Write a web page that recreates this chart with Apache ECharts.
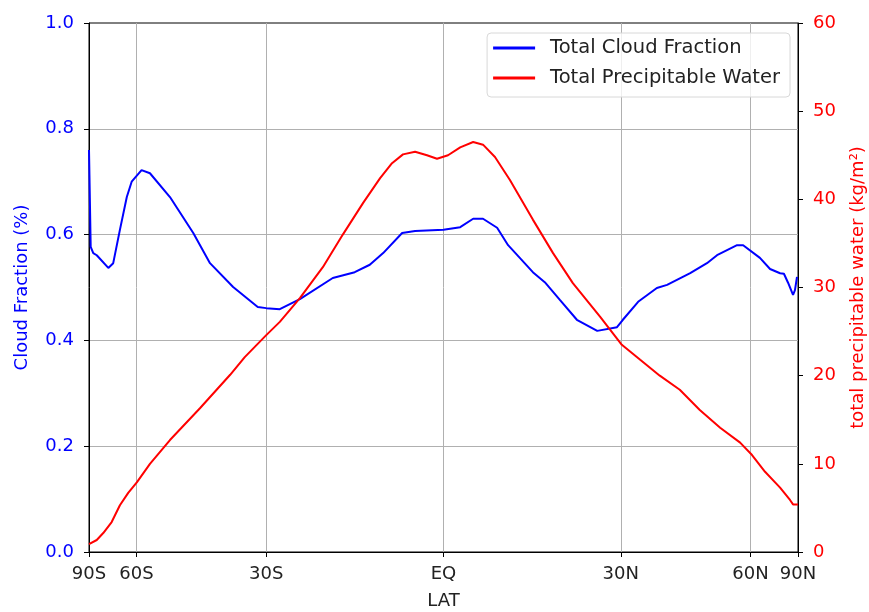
<!DOCTYPE html>
<html><head><meta charset="utf-8">
<script src="https://cdn.jsdelivr.net/npm/echarts@6/dist/echarts.min.js"></script>
<style>html,body{margin:0;padding:0;background:#fff}#c{width:869px;height:612px}</style>
</head><body><div id="c"></div>
<script>
// Latitudes (degrees) and values
var cloudLat = [-90,-84.4,-81.1,-78.0,-71.0,-68.7,-65.9,-63.3,-61.6,-58.4,-55.9,-50.5,-44.9,-41.2,-36.4,-31.6,-30,-27.5,-23.9,-18.2,-14.5,-12.0,-9.8,-6.7,-4.6,0,2.7,4.8,6.4,8.7,10.5,14.6,16.6,19.2,22.1,25.7,29.3,30.4,33.3,37.0,39.1,44.1,48.0,50.5,55.9,57.7,63.2,67.1,71.7,73.8,76.4,80.4,82.5,85.7];
var cloudFrac = [0.76,0.577,0.565,0.561,0.537,0.546,0.609,0.671,0.700,0.722,0.716,0.671,0.603,0.546,0.501,0.463,0.461,0.459,0.478,0.518,0.529,0.543,0.565,0.603,0.607,0.609,0.614,0.630,0.630,0.613,0.580,0.529,0.510,0.476,0.439,0.418,0.425,0.439,0.473,0.499,0.505,0.527,0.546,0.561,0.580,0.580,0.556,0.535,0.527,0.526,0.509,0.486,0.495,0.520];
var waterLat = [-90,-78.0,-73.7,-69.4,-65.9,-62.8,-59.9,-55.9,-50.5,-43.4,-37.0,-34.1,-30,-27.5,-23.9,-19.9,-16.5,-13.1,-10.3,-8.35,-6.56,-4.6,-2.67,-1.05,0.73,2.7,4.8,6.4,8.35,10.8,14.6,18.0,21.4,26.2,30.2,33.7,37.6,41.8,46.3,51.3,56.8,60.5,65.1,71.7,77.8,80.4,90];
var precipWater = [0.9,1.36,2.15,3.4,5.3,6.7,7.9,10.0,12.7,16.3,20.1,22.1,24.6,26.1,28.8,32.3,36.0,39.6,42.4,44.1,45.1,45.4,45.0,44.6,45.0,45.9,46.5,46.2,44.8,42.2,37.7,33.9,30.5,26.7,23.5,21.8,20.0,18.4,16.1,14.1,12.4,11.0,9.1,7.3,5.9,5.4,5.4];
var xTickLat = [-90,-60,-30,0,30,60,90];
var xTickLabels = ['90S','60S','30S','EQ','30N','60N','90N'];

function s(lat){ return Math.sin(lat*Math.PI/180); }
var xTickPos = xTickLat.map(s);
var labelMap = {};
xTickPos.forEach(function(p,i){ labelMap[p.toFixed(6)] = xTickLabels[i]; });

var chart = echarts.init(document.getElementById('c'));
var font = 'DejaVu Sans';
var fs = 18;
chart.setOption({
  animation:false,
  textStyle:{fontFamily:font},
  grid:{left:89,right:71,top:23,bottom:60,show:true,borderColor:'#000',borderWidth:1,backgroundColor:'transparent',outerBoundsMode:'none',containLabel:false},
  legend:{
    right:79, top:33, orient:'vertical',
    itemWidth:42, itemHeight:3, itemGap:10,
    padding:[5,10,9,6],
    borderColor:'#d8d8d8', borderWidth:1, borderRadius:4, backgroundColor:'rgba(255,255,255,0.8)',
    textStyle:{fontFamily:font,fontSize:19.5,color:'#222',padding:[0,0,0,10]},
    data:[{name:'Total Cloud Fraction',icon:'rect'},{name:'Total Precipitable Water',icon:'rect'}]
  },
  xAxis:{
    type:'value', min:-1, max:1,
    name:'LAT', nameLocation:'middle', nameGap:40,
    nameTextStyle:{fontFamily:font,fontSize:fs,color:'#222'},
    axisLine:{show:true,onZero:false,lineStyle:{color:'#000'}},
    axisTick:{show:true,length:5,inside:false,lineStyle:{color:'#000'},customValues:xTickPos},
    axisLabel:{fontFamily:font,fontSize:fs,color:'#222',margin:13,customValues:xTickPos,
      formatter:function(v){ return labelMap[Number(v).toFixed(6)] || ''; }},
    splitLine:{show:true,showMinLine:false,showMaxLine:false,lineStyle:{color:'#b0b0b0',width:1}}
  },
  yAxis:[{
    type:'value', min:0, max:1, interval:0.2, position:'left',
    name:'Cloud Fraction (%)', nameLocation:'middle', nameGap:58,
    nameTextStyle:{fontFamily:font,fontSize:fs,color:'blue'},
    axisLine:{show:true,onZero:false,lineStyle:{color:'#000'}},
    axisTick:{show:true,length:5,lineStyle:{color:'#000'}},
    axisLabel:{fontFamily:font,fontSize:fs,color:'blue',margin:15,formatter:function(v){return v.toFixed(1);}},
    splitLine:{show:true,showMinLine:false,showMaxLine:false,lineStyle:{color:'#b0b0b0',width:1}}
  },{
    type:'value', min:0, max:60, interval:10, position:'right',
    name:'total precipitable water (kg/m²)', nameLocation:'middle', nameGap:51, nameRotate:90,
    nameTextStyle:{fontFamily:font,fontSize:fs,color:'red'},
    axisLine:{show:true,onZero:false,lineStyle:{color:'#000'}},
    axisTick:{show:true,length:5,lineStyle:{color:'#000'}},
    axisLabel:{fontFamily:font,fontSize:fs,color:'red',margin:15},
    splitLine:{show:false}
  }],
  series:[{
    name:'Total Cloud Fraction', type:'line', yAxisIndex:0, showSymbol:false, symbol:'none',
    lineStyle:{color:'blue',width:2}, itemStyle:{color:'blue'},
    data:cloudLat.map(function(l,i){return [s(l),cloudFrac[i]];})
  },{
    name:'Total Precipitable Water', type:'line', yAxisIndex:1, showSymbol:false, symbol:'none',
    lineStyle:{color:'red',width:2}, itemStyle:{color:'red'},
    data:waterLat.map(function(l,i){return [s(l),precipWater[i]];})
  }]
});
</script></body></html>
